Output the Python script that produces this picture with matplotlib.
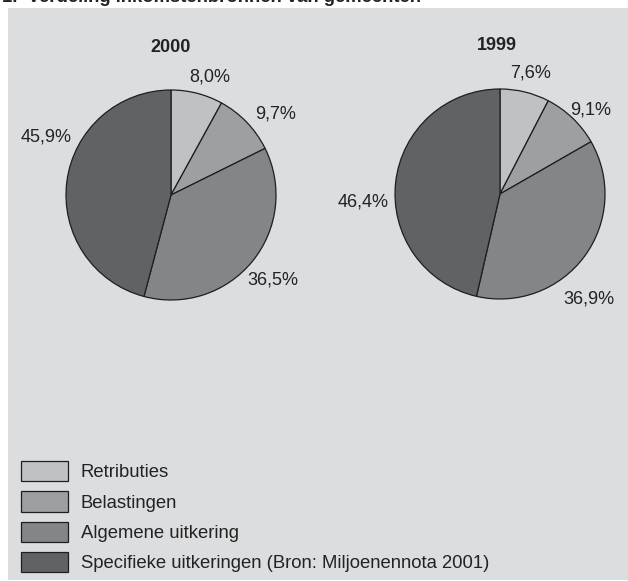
import numpy as np
import matplotlib.pyplot as plt
from matplotlib.patches import Rectangle

plt.rcParams['font.family'] = ['Liberation Sans', 'DejaVu Sans']

categories = ['Retributies', 'Belastingen', 'Algemene uitkering',
              'Specifieke uitkeringen (Bron: Miljoenennota 2001)']
years = ['2000', '1999']
shares_2000 = [8.0, 9.7, 36.5, 45.9]
shares_1999 = [7.6, 9.1, 36.9, 46.4]
title = '1.  Verdeling inkomstenbronnen van gemeenten'

colors = ['#c0c1c3', '#9d9fa2', '#848587', '#616264']
W, H = 628, 581

# label placement per slice: (angle offset in degrees, radius factor)
label_layout = [
    [(-4, 1.18), (-6, 1.26), (-0.6, 1.26), (-17.7, 1.31)],
    [(-0.7, 1.19), (-3.6, 1.18), (-13.2, 1.31), (9.8, 1.31)],
]
centers = [(171, 195), (500, 194)]
title_pos = [(171, 47), (497, 45)]
R = 105

fig = plt.figure(figsize=(W / 100, H / 100), dpi=100)
fig.patch.set_facecolor('white')
ax = fig.add_axes([0, 0, 1, 1])
ax.set_xlim(0, W)
ax.set_ylim(0, H)
ax.set_aspect('equal')
ax.axis('off')

# grey panel
ax.add_patch(Rectangle((8, H - 580), W - 8, 572, facecolor='#dcdddf',
                       edgecolor='none', zorder=0))

# heading, cut off at the top edge as in the original
ax.text(2, H - 2, title, fontsize=13.3, fontweight='bold', ha='left',
        va='baseline', color='#222222')

wedges_first = None
for i, shares in enumerate([shares_2000, shares_1999]):
    cx, cy = centers[i]
    wedges, _ = ax.pie(shares, colors=colors, startangle=90, counterclock=False,
                       radius=R, center=(cx, H - cy),
                       wedgeprops=dict(edgecolor='#1e1e1e', linewidth=0.9))
    if wedges_first is None:
        wedges_first = wedges
    for w, v, (dang, rf) in zip(wedges, shares, label_layout[i]):
        mid = np.deg2rad((w.theta1 + w.theta2) / 2 + dang)
        x = cx + rf * R * np.cos(mid)
        y = H - cy + rf * R * np.sin(mid)
        ax.text(x, y, f'{v:.1f}%'.replace('.', ','), fontsize=13,
                ha='center', va='center', color='#222222')
    tx, ty = title_pos[i]
    ax.text(tx, H - ty, years[i], fontsize=13, fontweight='bold',
            ha='center', va='center', color='#222222')

ax.set_xlim(0, W)
ax.set_ylim(0, H)

leg = ax.legend(wedges_first, categories, loc='upper left',
                bbox_to_anchor=(21 / W, 1 - 461 / H), frameon=False,
                fontsize=13.3, handlelength=2.54, handleheight=1.32,
                labelspacing=0.54, handletextpad=0.7,
                borderpad=0, borderaxespad=0)
for t in leg.get_texts():
    t.set_color('#222222')

fig.savefig('out.png', dpi=100, facecolor='white')
